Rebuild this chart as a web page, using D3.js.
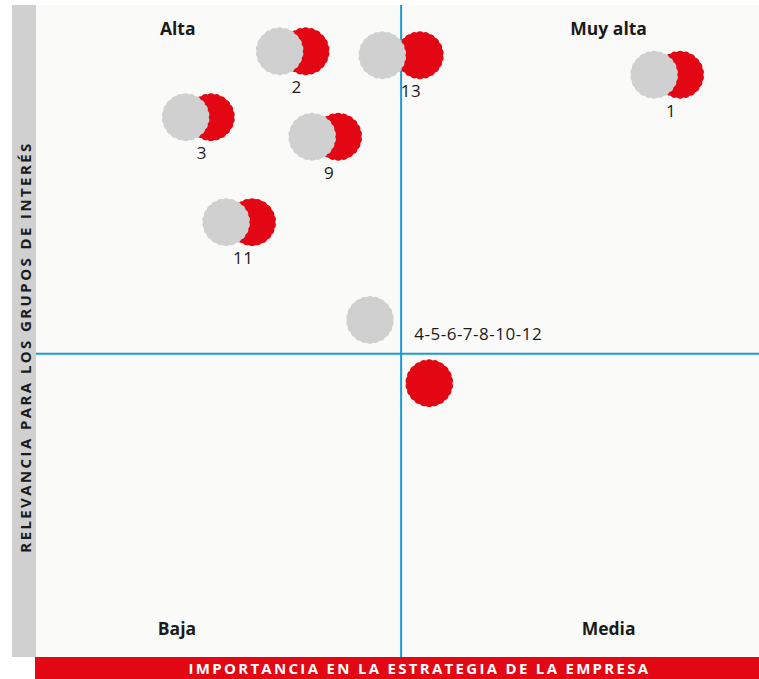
<!DOCTYPE html>
<html>
<head>
<meta charset="utf-8">
<script src="https://cdn.jsdelivr.net/npm/d3@7"></script>
<style>
  body { margin: 0; background: #ffffff; }
  svg { display: block; }
</style>
</head>
<body>
<div id="chart"></div>
<script>
// Items: grey = relevance for stakeholders, red = importance for the company
var labels = ["1", "2", "3", "9", "11", "13", "4-5-6-7-8-10-12"];
var greyX  = [85.5, 33.7, 20.7, 38.2, 26.3, 47.9, 46.2];
var greyY  = [89.3, 92.9, 82.8, 79.8, 66.7, 92.3, 51.7];
var redX   = [89.1, 37.3, 24.2, 41.8, 29.9, 53.1, 54.4];
var redY   = [89.3, 92.9, 82.8, 79.8, 66.7, 92.3, 42.0];

// quadrant split values and corner names
var xSplit = 50.5;
var ySplit = 46.5;
var quadrants = ["Alta", "Muy alta", "Baja", "Media"];

var svgWidth = 759;
var svgHeight = 679;
var margin = { top: 5, right: 0, bottom: 22, left: 36 };
var width = svgWidth - margin.left - margin.right;
var height = svgHeight - margin.top - margin.bottom;

var RED = "#e30613", GREY = "#d0d0d0", BLUE = "#1d9ad6", INK = "#1a1a1a";

var svg = d3.select("#chart").append("svg")
    .attr("width", svgWidth)
    .attr("height", svgHeight);

var xScale = d3.scaleLinear().domain([0, 100]).range([0, width]);
var yScale = d3.scaleLinear().domain([0, 100]).range([height, 0]);

// side band with the y title
svg.append("rect")
    .attr("x", 12).attr("y", margin.top)
    .attr("width", margin.left - 12).attr("height", height)
    .attr("fill", GREY);
svg.append("text")
    .attr("transform", "translate(" + 30.5 + "," + (margin.top + height / 2 + 16) + ") rotate(-90)")
    .attr("text-anchor", "middle")
    .style("font-family", "'Open Sans', sans-serif")
    .style("font-weight", 700)
    .style("font-size", "15px")
    .style("letter-spacing", "2.4px")
    .attr("fill", INK)
    .text("RELEVANCIA PARA LOS GRUPOS DE INTERÉS");

// bottom band with the x title
svg.append("rect")
    .attr("x", margin.left - 1).attr("y", margin.top + height)
    .attr("width", width + 1).attr("height", margin.bottom)
    .attr("fill", RED);
svg.append("text")
    .attr("x", margin.left + width / 2 + 22)
    .attr("y", margin.top + height + 17)
    .attr("text-anchor", "middle")
    .style("font-family", "'Open Sans', sans-serif")
    .style("font-weight", 700)
    .style("font-size", "15px")
    .style("letter-spacing", "2.3px")
    .attr("fill", "#ffffff")
    .text("IMPORTANCIA EN LA ESTRATEGIA DE LA EMPRESA");

var chartGroup = svg.append("g")
    .attr("transform", "translate(" + margin.left + "," + margin.top + ")");

chartGroup.append("rect")
    .attr("width", width).attr("height", height)
    .attr("fill", "#fafaf8");

// scalloped "bottle cap" circle
function capPath(r, n) {
    var bump = r * Math.sin(Math.PI / n) * 1.7;
    var p = "";
    for (var i = 0; i <= n; i++) {
        var a = 2 * Math.PI * i / n;
        var px = r * Math.cos(a), py = r * Math.sin(a);
        if (i === 0) p += "M" + px + "," + py;
        else p += "A" + bump + "," + bump + " 0 0 1 " + px + "," + py;
    }
    return p + "Z";
}
var cap = capPath(23, 22);

var items = labels.map(function(l, i) {
    return { label: l, gx: greyX[i], gy: greyY[i], rx: redX[i], ry: redY[i] };
});

// red marks
chartGroup.selectAll(".red").data(items).enter().append("path")
    .attr("class", "red")
    .attr("d", cap)
    .attr("transform", d => "translate(" + xScale(d.rx) + "," + yScale(d.ry) + ")")
    .attr("fill", RED);

// quadrant lines
chartGroup.append("line")
    .attr("x1", xScale(xSplit)).attr("x2", xScale(xSplit))
    .attr("y1", 0).attr("y2", height)
    .attr("stroke", BLUE).attr("stroke-width", 2);
chartGroup.append("line")
    .attr("x1", 0).attr("x2", width)
    .attr("y1", yScale(ySplit)).attr("y2", yScale(ySplit))
    .attr("stroke", BLUE).attr("stroke-width", 2);

// grey marks
chartGroup.selectAll(".grey").data(items).enter().append("path")
    .attr("class", "grey")
    .attr("d", cap)
    .attr("transform", d => "translate(" + xScale(d.gx) + "," + yScale(d.gy) + ")")
    .attr("fill", GREY);

// item labels
chartGroup.selectAll(".lbl").data(items).enter().append("text")
    .attr("class", "lbl")
    .attr("x", d => d.label.length > 3 ? xScale(d.rx) - 15 : xScale(d.rx) - 9)
    .attr("y", d => d.label.length > 3 ? yScale(d.gy) + 20 : yScale(d.gy) + 42)
    .attr("text-anchor", d => d.label.length > 3 ? "start" : "middle")
    .style("font-family", "'Open Sans', sans-serif")
    .style("font-size", "17px")
    .style("letter-spacing", "0.5px")
    .attr("fill", INK)
    .text(d => d.label);

// quadrant names
var qPos = [[0.196, 29], [0.792, 29], [0.195, 629], [0.792, 629]];
chartGroup.selectAll(".quad").data(quadrants).enter().append("text")
    .attr("class", "quad")
    .attr("x", (d, i) => width * qPos[i][0])
    .attr("y", (d, i) => qPos[i][1] - margin.top + 6)
    .attr("text-anchor", "middle")
    .style("font-family", "'Open Sans', sans-serif")
    .style("font-weight", 700)
    .style("font-size", "17.5px")
    .attr("fill", INK)
    .text(d => d);
</script>
</body>
</html>
